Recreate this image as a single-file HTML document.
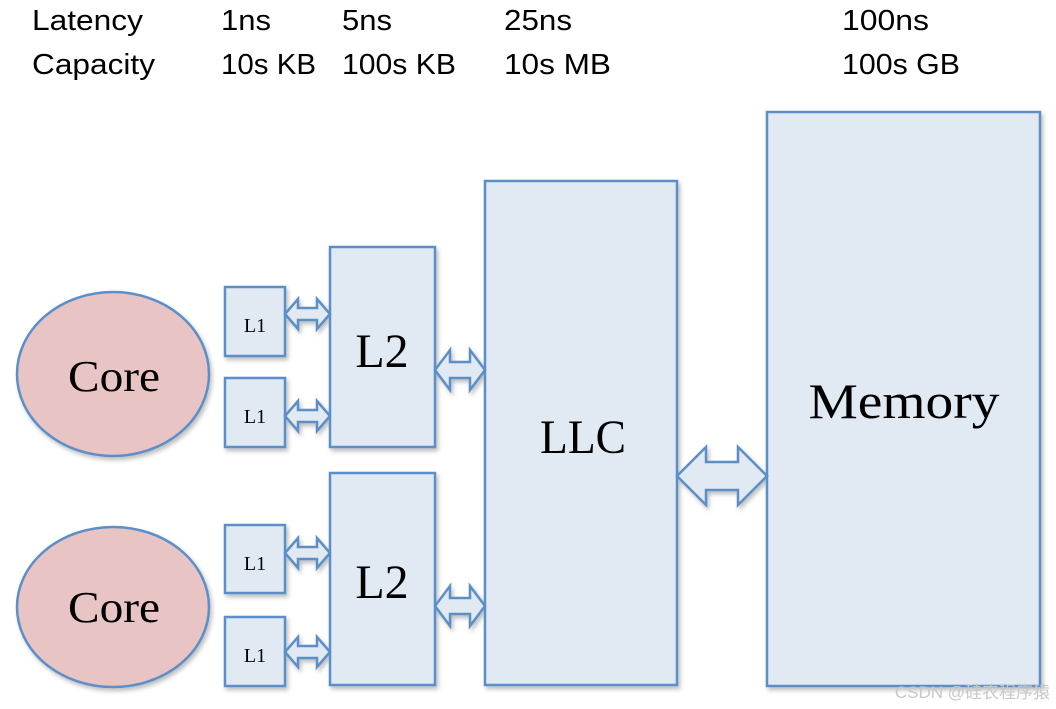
<!DOCTYPE html>
<html><head><meta charset="utf-8"><style>
html,body{margin:0;padding:0;background:#fff;}
svg{display:block;}
</style></head><body>
<svg width="1056" height="709" viewBox="0 0 1056 709" xmlns="http://www.w3.org/2000/svg">
<defs>
<filter id="sh" x="-10%" y="-10%" width="130%" height="130%"><feDropShadow dx="2" dy="3" stdDeviation="2" flood-color="#000" flood-opacity="0.25"/></filter>
<g id="sa"><path d="M0,0 L13,-15 L13,-6 L32,-6 L32,-15 L45,0 L32,15 L32,6 L13,6 L13,15 Z"/></g>
<g id="ma"><path d="M0,0 L15,-20 L15,-8 L35,-8 L35,-20 L50,0 L35,20 L35,8 L15,8 L15,20 Z"/></g>
</defs>
<g font-family="Liberation Sans, sans-serif" font-size="29" fill="#000" lengthAdjust="spacingAndGlyphs">
<text x="32" y="30" textLength="111" lengthAdjust="spacingAndGlyphs">Latency</text><text x="32" y="74" textLength="123" lengthAdjust="spacingAndGlyphs">Capacity</text>
<text x="221" y="30" textLength="50" lengthAdjust="spacingAndGlyphs">1ns</text><text x="221" y="74" textLength="95" lengthAdjust="spacingAndGlyphs">10s KB</text>
<text x="342" y="30" textLength="50" lengthAdjust="spacingAndGlyphs">5ns</text><text x="342" y="74" textLength="114" lengthAdjust="spacingAndGlyphs">100s KB</text>
<text x="504" y="30" textLength="68" lengthAdjust="spacingAndGlyphs">25ns</text><text x="504" y="74" textLength="107" lengthAdjust="spacingAndGlyphs">10s MB</text>
<text x="842" y="30" textLength="87" lengthAdjust="spacingAndGlyphs">100ns</text><text x="842" y="74" textLength="118" lengthAdjust="spacingAndGlyphs">100s GB</text>
</g>
<g stroke="#5b8fc7" stroke-width="2.5" filter="url(#sh)">
<ellipse cx="113" cy="374" rx="96" ry="82" fill="#e8c4c4"/>
<ellipse cx="113" cy="607" rx="96" ry="80" fill="#e8c4c4"/>
<g fill="#e1e9f3">
<rect x="225" y="287" width="60" height="69"/>
<rect x="225" y="378" width="60" height="69"/>
<rect x="225" y="525" width="60" height="68"/>
<rect x="225" y="617" width="60" height="69"/>
<rect x="330" y="247" width="105" height="200"/>
<rect x="330" y="473" width="105" height="212"/>
<rect x="485" y="181" width="192" height="504"/>
<rect x="767" y="112" width="273" height="574"/>
<use href="#sa" x="285" y="314"/>
<use href="#sa" x="285" y="416"/>
<use href="#sa" x="285" y="553"/>
<use href="#sa" x="285" y="652"/>
<use href="#ma" x="435" y="370"/>
<use href="#ma" x="435" y="606"/>
<path d="M677,476 L706,447 L706,462 L738,462 L738,447 L767,476 L738,505 L738,490 L706,490 L706,505 Z"/>
</g>
</g>
<g font-family="Liberation Serif, serif" fill="#000" text-anchor="middle">
<text x="114" y="391" font-size="44" textLength="92" lengthAdjust="spacingAndGlyphs">Core</text>
<text x="114" y="622" font-size="44" textLength="92" lengthAdjust="spacingAndGlyphs">Core</text>
<text x="255" y="332" font-size="20">L1</text>
<text x="255" y="423" font-size="20">L1</text>
<text x="255" y="570" font-size="20">L1</text>
<text x="255" y="662" font-size="20">L1</text>
<text x="382" y="367" font-size="48">L2</text>
<text x="382" y="598" font-size="48">L2</text>
<text x="583" y="453" font-size="48" textLength="86" lengthAdjust="spacingAndGlyphs">LLC</text>
<text x="904" y="418" font-size="50" textLength="191" lengthAdjust="spacingAndGlyphs">Memory</text>
</g>
<text x="1050" y="698" text-anchor="end" font-family="Liberation Sans, 'Noto Sans CJK SC', sans-serif" font-size="17" fill="#c8c8c8">CSDN @硅农程序猿</text>
</svg>
</body></html>
